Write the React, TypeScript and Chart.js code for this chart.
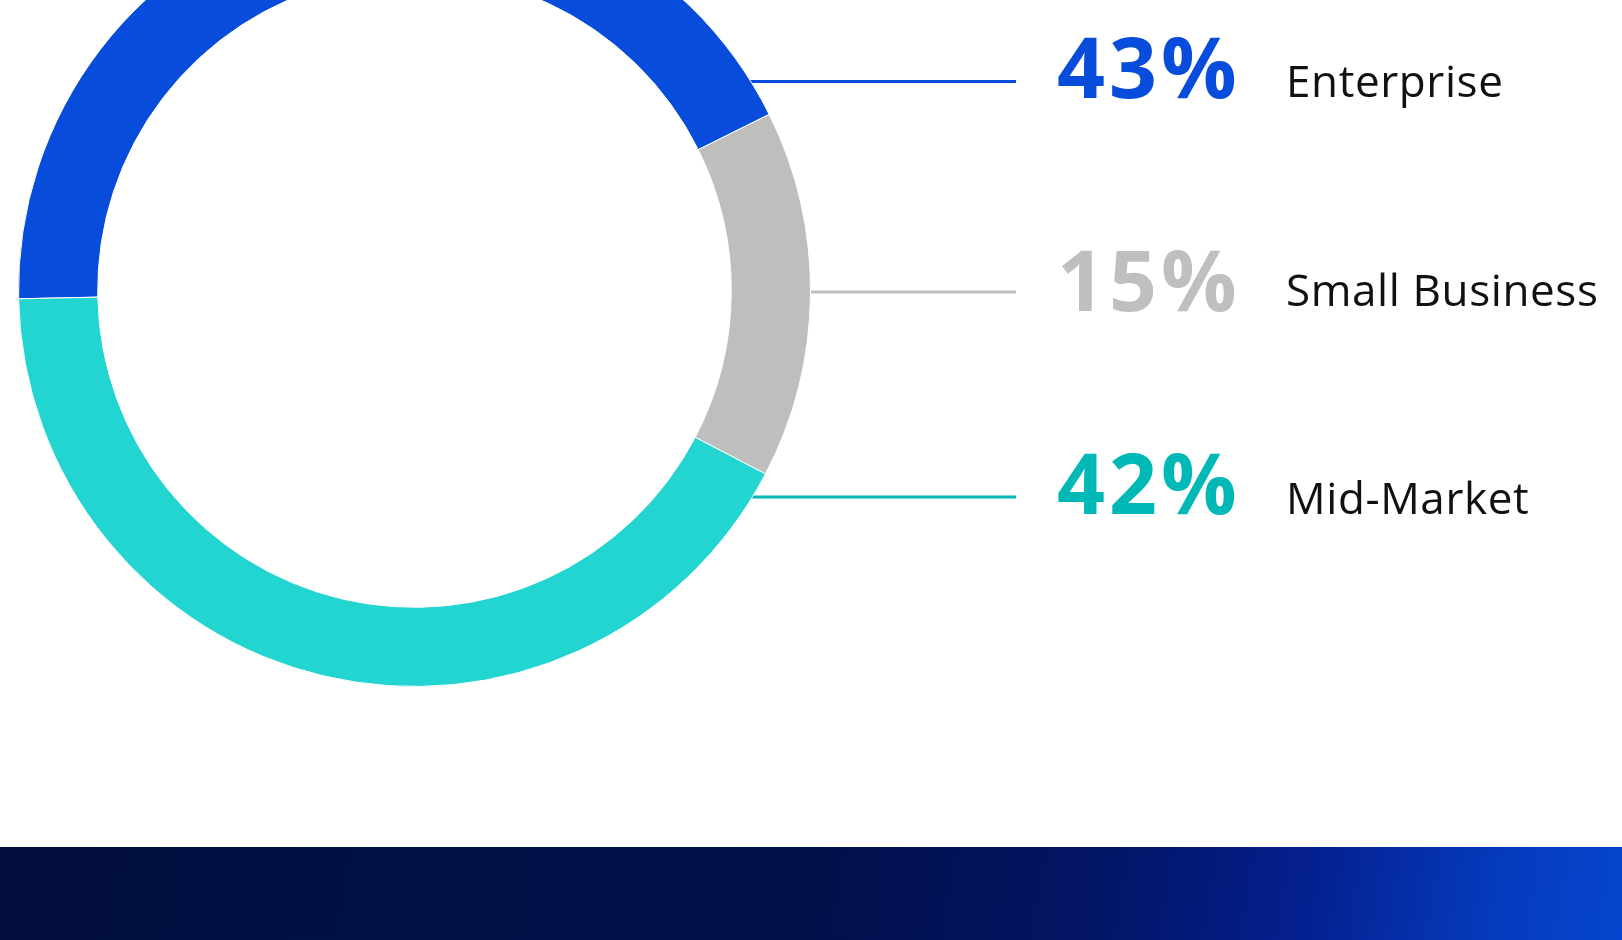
import React, { useEffect, useRef } from "react";
import { Chart, registerables } from "chart.js";

Chart.register(...registerables);

const categories = ["Enterprise", "Small Business", "Mid-Market"];
const shares = [43, 15, 42];
const percentLabels = ["43%", "15%", "42%"];
const ringColors = ["#074cdb", "#bebebe", "#22d5d1"];
const accentColors = ["#074cdb", "#bfbfbf", "#00b9b6"];

const CANVAS_W = 1622;
const CANVAS_H = 953;
const CANVAS_TOP = -106;

const leaderPlugin = {
  id: "leaders",
  beforeDatasetsDraw(chart: any) {
    const meta = chart.getDatasetMeta(0);
    const arc = meta.data[0];
    if (!arc) return;
    const { x: cx, y: cy, outerRadius } = arc.getProps(["x", "y", "outerRadius"], true);
    const ctx = chart.ctx;
    const rowOffsets = [-209, 1.5, 206.5];
    const pctBase = [16, 19, 17];
    const lblBase = [15.5, 13.5, 17];
    const lineEndX = 1016;
    const pctX = 1057;
    const lblX = 1286;
    categories.forEach((cat, i) => {
      const y = cy + rowOffsets[i];
      const dy = y - cy;
      const x0 = cx + Math.sqrt(Math.max(outerRadius * outerRadius - dy * dy, 0)) - 4;
      ctx.save();
      ctx.strokeStyle = accentColors[i];
      ctx.lineWidth = 3;
      ctx.beginPath();
      ctx.moveTo(x0, y);
      ctx.lineTo(lineEndX, y);
      ctx.stroke();
      ctx.textAlign = "left";
      ctx.textBaseline = "alphabetic";
      ctx.fillStyle = accentColors[i];
      ctx.font = "700 84px 'Open Sans'";
      (ctx as any).letterSpacing = "4px";
      ctx.fillText(percentLabels[i], pctX, y + pctBase[i]);
      ctx.fillStyle = "#111111";
      ctx.font = "400 44px 'Open Sans'";
      (ctx as any).letterSpacing = "0.6px";
      ctx.fillText(cat, lblX, y + lblBase[i]);
      (ctx as any).letterSpacing = "0px";
      ctx.restore();
    });
  },
};

export default function App() {
  const canvasRef = useRef<HTMLCanvasElement | null>(null);

  useEffect(() => {
    document.body.style.margin = "0";
    const canvas = canvasRef.current;
    if (!canvas) return;
    const chart = new Chart(canvas, {
      type: "doughnut",
      data: {
        labels: categories,
        datasets: [
          {
            data: shares,
            backgroundColor: ringColors,
            borderColor: "#ffffff",
            borderWidth: 1,
          },
        ],
      },
      options: {
        responsive: false,
        animation: false,
        events: [],
        rotation: -91.2,
        cutout: "80%",
        layout: { padding: { left: 18, top: 0, right: CANVAS_W - 811, bottom: CANVAS_H - 793 } },
        plugins: {
          legend: { display: false },
          tooltip: { enabled: false },
        },
      },
      plugins: [leaderPlugin],
    });
    return () => chart.destroy();
  }, []);

  return (
    <div
      style={{
        position: "fixed",
        left: 0,
        top: 0,
        width: 1622,
        height: 940,
        overflow: "hidden",
        background: "#ffffff",
      }}
    >
      <canvas
        ref={canvasRef}
        width={CANVAS_W}
        height={CANVAS_H}
        style={{ position: "absolute", left: 0, top: CANVAS_TOP, width: CANVAS_W, height: CANVAS_H }}
      />
      <div
        style={{
          position: "absolute",
          left: 0,
          top: 847,
          width: 1622,
          height: 93,
          background:
            "linear-gradient(100deg, #010e3e 0%, #02104a 50%, #031566 68%, #041f8e 80%, #053bbd 92%, #0645cf 100%)",
        }}
      />
    </div>
  );
}
